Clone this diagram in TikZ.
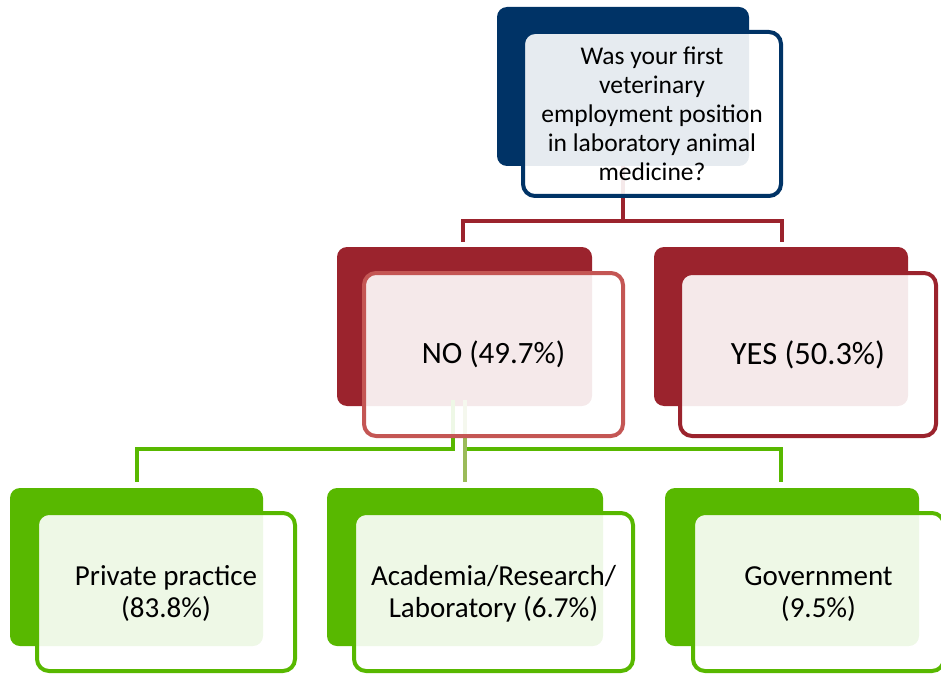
\documentclass[tikz,border=0pt]{standalone}
\usepackage{fontspec}
\setmainfont{Carlito}
\usetikzlibrary{calc}

\definecolor{navy}{RGB}{0,51,102}
\definecolor{wine}{RGB}{155,35,45}
\definecolor{rosered}{RGB}{196,86,84}
\definecolor{leaf}{RGB}{88,184,0}
\definecolor{olive}{RGB}{155,187,89}

% a centred block of lines, drawn lower by the given amount but keeping its size
\newcommand{\loweredlines}[2]{\raisebox{-#1}[\height][\depth]{\begin{tabular}{@{}c@{}}#2\end{tabular}}}

\tikzset{
  backbox/.style={draw=none, fill=#1, rounded corners=10pt, inner sep=0pt},
  frontbox/.style={draw=#1, line width=4pt, fill=white, fill opacity=0.9,
    text opacity=1, rounded corners=12pt, inner sep=0pt, align=center, text=black},
  wireconn/.style={draw=#1, line width=4pt},
}

\begin{document}
\begin{tikzpicture}[x=1pt,y=-1pt]
\useasboundingbox (0,0) rectangle (941,676);

% back plates
\node[backbox=navy, minimum width=252pt, minimum height=159pt] (topback) at (623,86.5) {};
\node[backbox=wine, minimum width=255pt, minimum height=159pt] (noback) at (464.5,326.5) {};
\node[backbox=wine, minimum width=254pt, minimum height=159pt] (yesback) at (781,326.5) {};
\node[backbox=leaf, minimum width=253pt, minimum height=158pt] (ppback) at (136.5,567) {};
\node[backbox=leaf, minimum width=276pt, minimum height=158pt] (arlback) at (465,567) {};
\node[backbox=leaf, minimum width=254pt, minimum height=158pt] (govback) at (792,567) {};

% connector end points
\coordinate (noin) at (463,242);
\coordinate (yesin) at (782,242);
\coordinate (ppin) at (137,482);
\coordinate (arlin) at (464.5,482);
\coordinate (govin) at (781,482);

% first level connectors
\draw[wireconn=wine] (topback.south) -- ++(0,55) -| (noin);
\draw[wireconn=wine] (topback.south) -- ++(0,55) -| (yesin);

% second level connectors
\draw[wireconn=leaf] ([xshift=-11.5pt,yshift=6pt]noback.south) -- ++(0,49) -| (ppin);
\draw[wireconn=leaf] ([yshift=6pt]noback.south) -- ++(0,49) -| (govin);
\draw[wireconn=olive] ([yshift=6pt]noback.south) -- (arlin);

% front panels with the texts
\node[frontbox=navy, minimum width=258pt, minimum height=164pt,
  font=\fontsize{25.5}{29}\selectfont] (top) at (652,114)
  {Was your first\\veterinary\\employment position\\in laboratory animal\\medicine?};
\node[frontbox=rosered, minimum width=259pt, minimum height=163pt,
  font=\fontsize{31}{36}\selectfont] (no) at (493.5,354.5) {NO (49.7\%)};
\node[frontbox=wine, minimum width=256pt, minimum height=163pt,
  font=\fontsize{32.5}{36}\selectfont] (yes) at (808,354.5) {YES (50.3\%)};
\node[frontbox=leaf, minimum width=258pt, minimum height=158pt,
  font=\fontsize{29}{32.5}\selectfont] (pp) at (166,592)
  {\loweredlines{3pt}{Private practice\\(83.8\%)}};
\node[frontbox=leaf, minimum width=279pt, minimum height=158pt,
  font=\fontsize{29}{32.5}\selectfont] (arl) at (493.5,592)
  {\loweredlines{3pt}{Academia/Research/\\Laboratory (6.7\%)}};
\node[frontbox=leaf, minimum width=251pt, minimum height=158pt,
  font=\fontsize{29}{32.5}\selectfont] (gov) at (818.5,592)
  {\loweredlines{3pt}{Government\\(9.5\%)}};
\end{tikzpicture}
\end{document}
